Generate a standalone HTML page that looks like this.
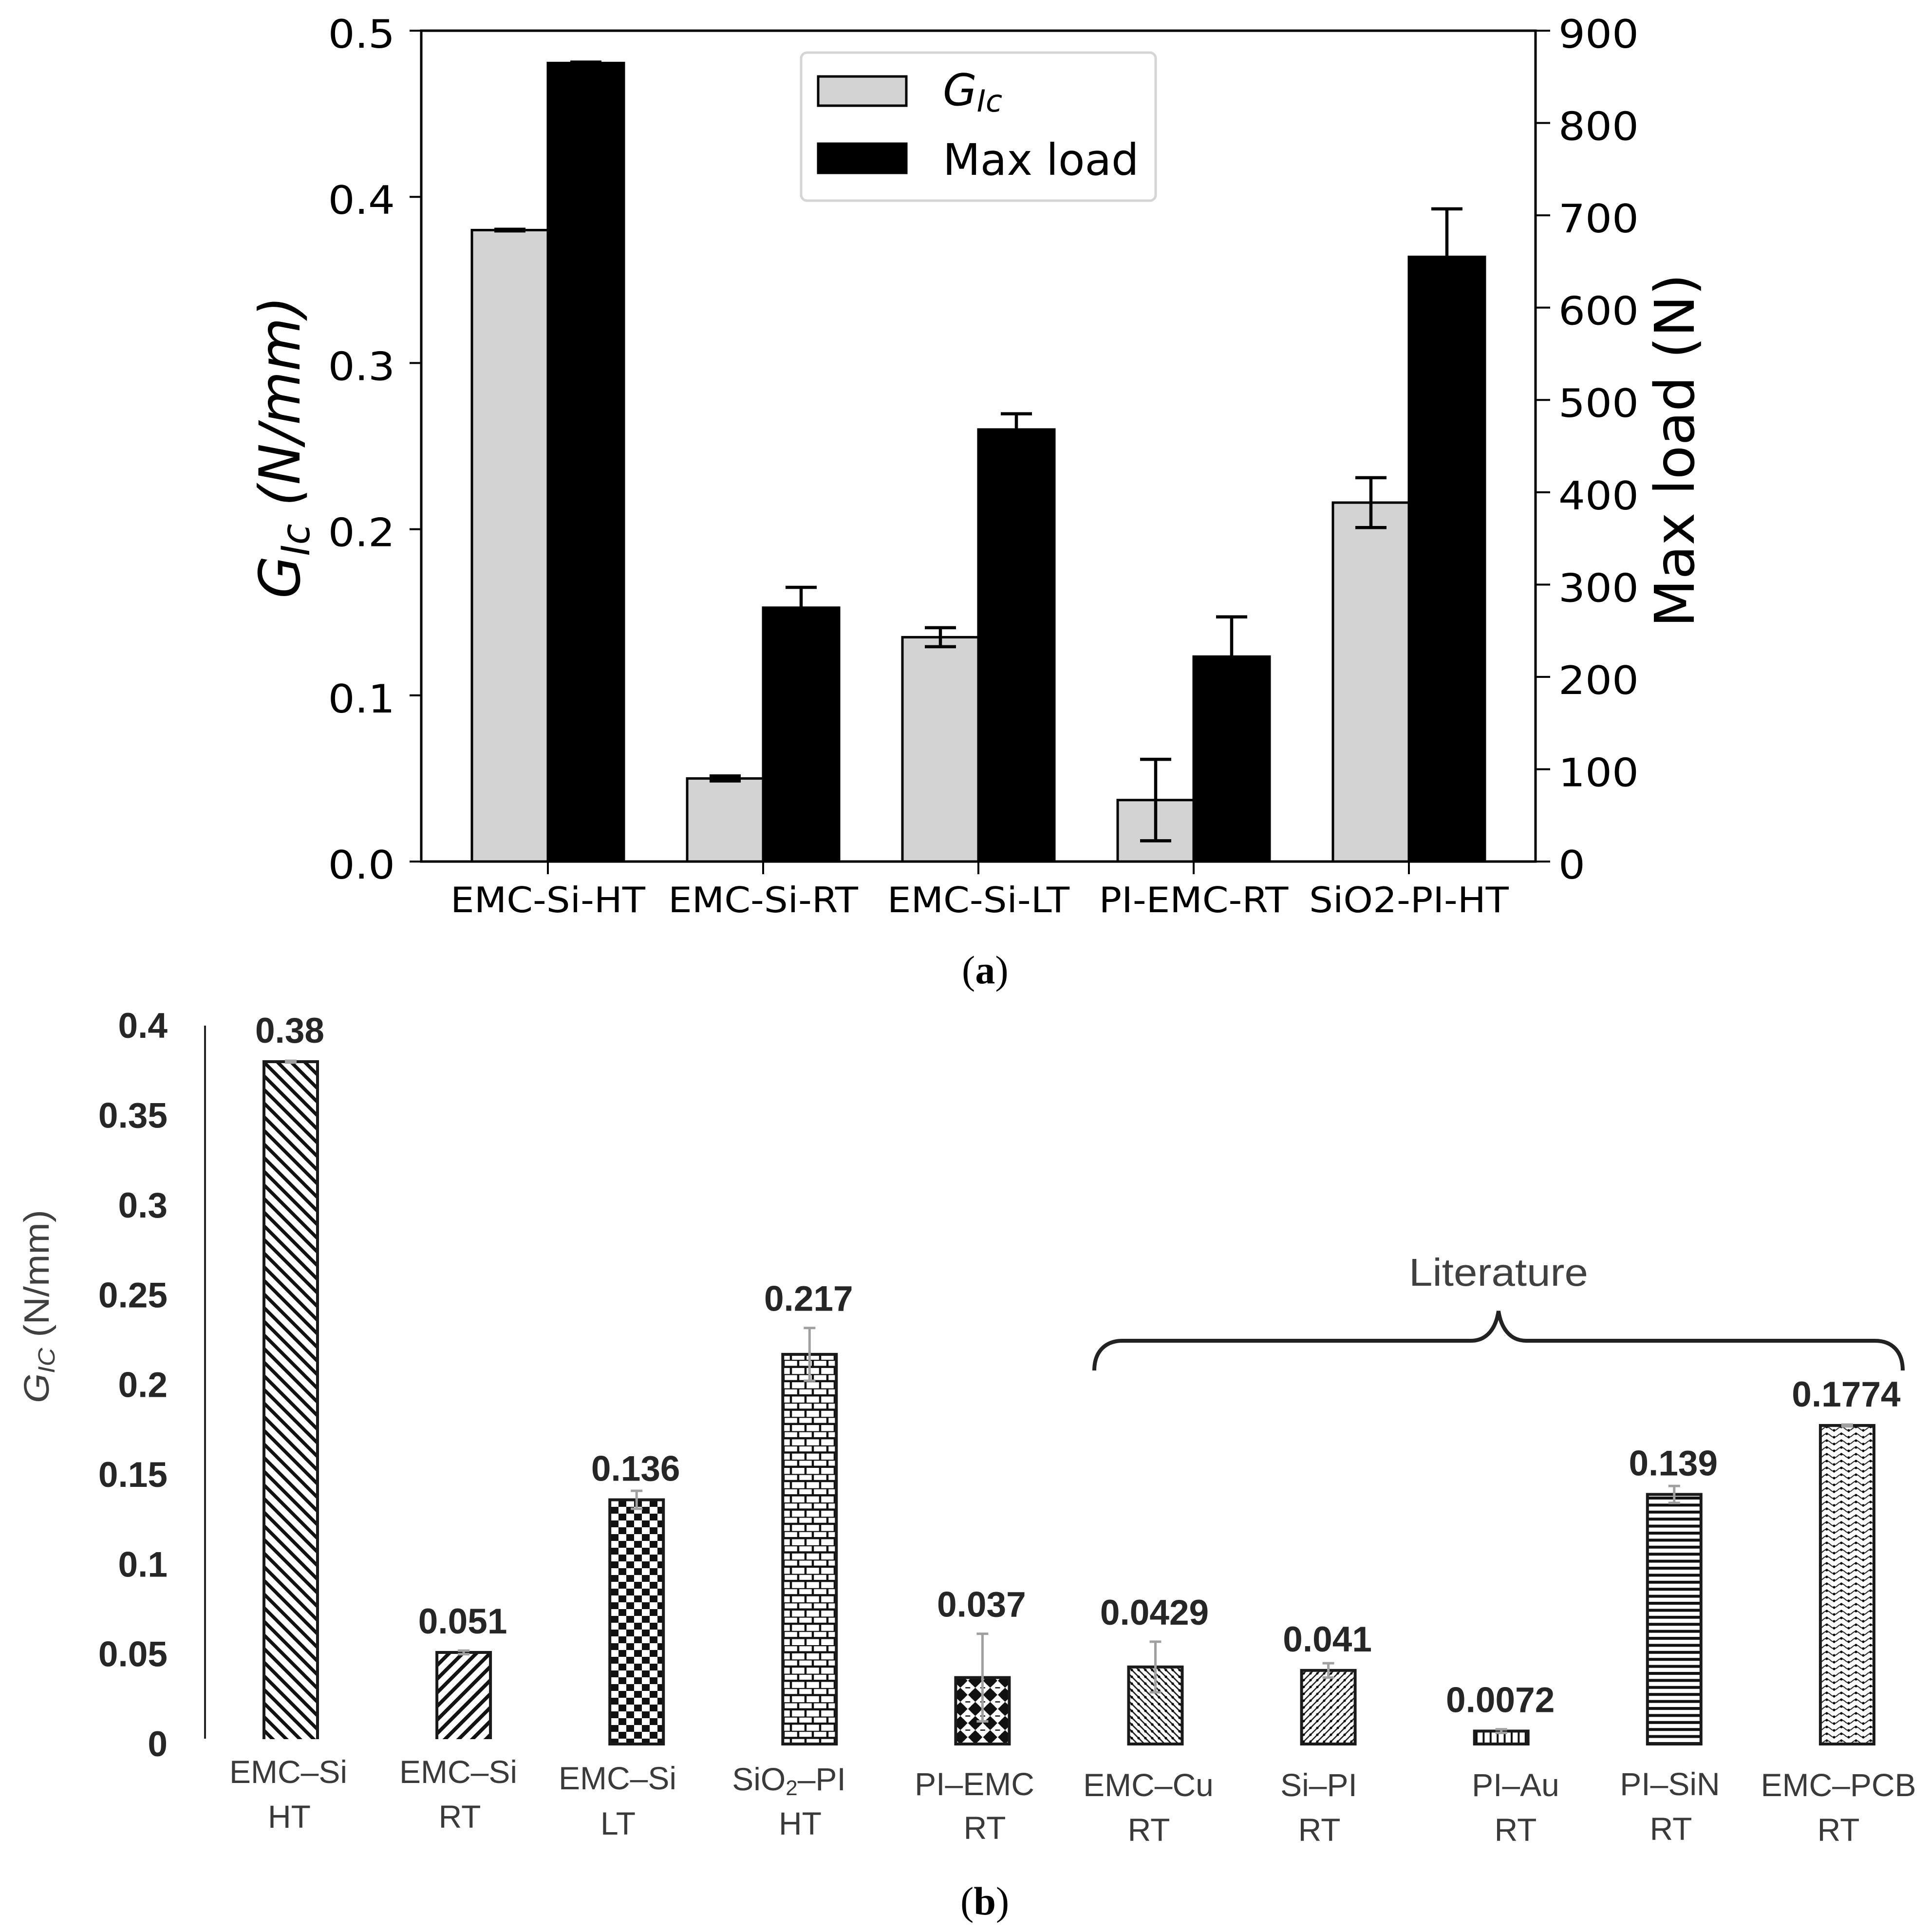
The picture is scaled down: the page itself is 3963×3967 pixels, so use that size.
<!DOCTYPE html>
<html lang="en">
<head>
<meta charset="utf-8">
<title>GIc and max load comparison charts</title>
<style>
html,body{margin:0;padding:0;background:#fff}
svg{display:block}
.dj{font-family:"DejaVu Sans",sans-serif;fill:#000}
.ls{font-family:"Liberation Sans",sans-serif}
.cat{font-size:66px;fill:#3a3a3a;text-anchor:middle}
.cap{font-family:"Liberation Serif",serif;font-size:82px;fill:#000}
</style>
</head>
<body>
<svg id="fig" xmlns="http://www.w3.org/2000/svg" width="3963" height="3967" viewBox="0 0 3963 3967">
<defs>
  <pattern id="hatch-0" patternUnits="userSpaceOnUse" width="28" height="28" x="541" y="2180">
    <path d="M-7 -7L35 35M-7 21L7 35M21 -7L35 7" stroke="#111" stroke-width="7" fill="none"/>
  </pattern>
  <pattern id="hatch-1" patternUnits="userSpaceOnUse" width="28" height="28" x="897" y="3392">
    <path d="M-7 7L7 -7M-7 35L35 -7M21 35L35 21" stroke="#111" stroke-width="7.5" fill="none"/>
  </pattern>
  <pattern id="hatch-2" patternUnits="userSpaceOnUse" width="32" height="28" x="1254" y="3080">
    <rect x="16" y="0" width="16" height="14" fill="#111"/>
    <rect x="0" y="14" width="16" height="14" fill="#111"/>
  </pattern>
  <pattern id="hatch-3" patternUnits="userSpaceOnUse" width="30" height="29.3" x="1624" y="2792">
    <path d="M0 0H30M0 14.65H30M15 0V14.65M0 14.65V29.3M30 14.65V29.3" stroke="#111" stroke-width="4.5" fill="none"/>
  </pattern>
  <pattern id="hatch-4" patternUnits="userSpaceOnUse" width="30.6" height="29" x="1987.3" y="3465.5">
    <circle cx="15.3" cy="14.5" r="10.5" fill="#111"/>
    <path d="M15.3 0L30 14.5L15.3 29L0.6 14.5Z" fill="#111"/>
    <path d="M0 0H5M25.6 0H30.6M0 29H5M25.6 29H30.6" stroke="#111" stroke-width="2.5"/>
  </pattern>
  <pattern id="hatch-5" patternUnits="userSpaceOnUse" width="14" height="14" x="2317" y="3422">
    <path d="M-3.5 -3.5L17.5 17.5M-3.5 10.5L3.5 17.5M10.5 -3.5L17.5 3.5" stroke="#222" stroke-width="2.8" fill="none"/>
    <circle cx="7" cy="7" r="2.6" fill="#000"/>
  </pattern>
  <pattern id="hatch-6" patternUnits="userSpaceOnUse" width="14" height="14" x="2670" y="3429">
    <path d="M-3.5 17.5L17.5 -3.5M-3.5 3.5L3.5 -3.5M10.5 17.5L17.5 10.5" stroke="#222" stroke-width="2.6" fill="none"/>
    <circle cx="7" cy="7" r="2.5" fill="#000"/>
  </pattern>
  <pattern id="hatch-7" patternUnits="userSpaceOnUse" width="14.4" height="14" x="3025" y="3554">
    <path d="M7 0V14" stroke="#111" stroke-width="4" fill="none"/>
  </pattern>
  <pattern id="hatch-8" patternUnits="userSpaceOnUse" width="14.4" height="14.4" x="3381" y="3069">
    <path d="M0 7H14.4" stroke="#111" stroke-width="6" fill="none"/>
  </pattern>
  <pattern id="hatch-9" patternUnits="userSpaceOnUse" width="30" height="14" x="3736" y="2927">
    <path d="M0 10C7 10 8 3 15 3C22 3 23 10 30 10" stroke="#333" stroke-width="2.2" fill="none"/>
    <circle cx="0" cy="10" r="2.6" fill="#000"/><circle cx="30" cy="10" r="2.6" fill="#000"/><circle cx="15" cy="3" r="2.6" fill="#000"/>
  </pattern>
</defs>

<g id="chart-a"></g>
<g id="chart-b"></g>

<!-- Chart a: axis titles -->
<text class="dj" transform="translate(615,1229) rotate(-90)" font-size="116" font-style="italic" textLength="621" lengthAdjust="spacingAndGlyphs">G<tspan font-size="80" dy="20">Ic</tspan><tspan dy="-20"> (N/mm)</tspan></text>
<text class="dj" transform="translate(3478,925) rotate(-90)" font-size="112" text-anchor="middle" textLength="726" lengthAdjust="spacingAndGlyphs">Max load (N)</text>

<!-- Chart a: legend -->
<g>
  <rect x="1645" y="108" width="728" height="304" rx="12" fill="#fff" fill-opacity="0.9" stroke="#d5d5d5" stroke-width="5"/>
  <rect x="1680" y="157" width="181" height="60" fill="#d3d3d3" stroke="#000" stroke-width="5"/>
  <text class="dj" x="1936" y="216" font-size="90" font-style="italic">G<tspan font-size="62" dy="13">Ic</tspan></text>
  <rect x="1680" y="295" width="181" height="60" fill="#000" stroke="#000" stroke-width="5"/>
  <text class="dj" x="1936" y="359" font-size="89">Max load</text>
</g>
<text class="cap" x="1975" y="2019">(<tspan font-weight="bold">a</tspan>)</text>

<!-- Chart b: axis title, literature brace and category labels -->
<text class="ls" transform="translate(100,2881) rotate(-90)" font-size="72" fill="#404040" textLength="397" lengthAdjust="spacingAndGlyphs"><tspan font-style="italic">G</tspan><tspan font-style="italic" font-size="48" dy="12">IC</tspan><tspan dy="-12"> (N/mm)</tspan></text>
<text class="ls" x="3077" y="2640" font-size="80" fill="#404040" text-anchor="middle" textLength="368" lengthAdjust="spacingAndGlyphs">Literature</text>
<path d="M2247 2814C2247 2775 2270 2753 2305 2753H3020C3055 2753 3072 2725 3077 2692C3082 2725 3099 2753 3134 2753H3850C3885 2753 3907 2775 3907 2814" fill="none" stroke="#222" stroke-width="8"/>

<g class="ls">
  <text class="cat" x="592" y="3661">EMC–Si</text>
  <text class="cat" x="594" y="3753">HT</text>
  <text class="cat" x="941" y="3661">EMC–Si</text>
  <text class="cat" x="944" y="3753">RT</text>
  <text class="cat" x="1268" y="3674">EMC–Si</text>
  <text class="cat" x="1269" y="3767">LT</text>
  <text class="cat" x="1620" y="3676">SiO<tspan font-size="44" dy="10">2</tspan><tspan dy="-10">–PI</tspan></text>
  <text class="cat" x="1643" y="3767">HT</text>
  <text class="cat" x="2001" y="3686">PI–EMC</text>
  <text class="cat" x="2022" y="3776">RT</text>
  <text class="cat" x="2358" y="3688">EMC–Cu</text>
  <text class="cat" x="2359" y="3780">RT</text>
  <text class="cat" x="2708" y="3688">Si–PI</text>
  <text class="cat" x="2709" y="3780">RT</text>
  <text class="cat" x="3112" y="3688">PI–Au</text>
  <text class="cat" x="3112" y="3780">RT</text>
  <text class="cat" x="3429" y="3686">PI–SiN</text>
  <text class="cat" x="3431" y="3778">RT</text>
  <text class="cat" x="3775" y="3688">EMC–PCB</text>
  <text class="cat" x="3775" y="3780">RT</text>
</g>
<text class="cap" x="1972" y="3931">(<tspan font-weight="bold">b</tspan>)</text>

<script>
// Chart (a) data
const aCategories = ['EMC-Si-HT', 'EMC-Si-RT', 'EMC-Si-LT', 'PI-EMC-RT', 'SiO2-PI-HT'];
const gicValues = [0.38, 0.05, 0.135, 0.037, 0.216];
const gicErrors = [0.0005, 0.0015, 0.0057, 0.0245, 0.015];
const loadValues = [865, 275, 468, 222, 655];
const loadErrors = [1, 22, 17, 43, 52];
const gicTicks = ['0.0', '0.1', '0.2', '0.3', '0.4', '0.5'];
const loadTicks = ['0', '100', '200', '300', '400', '500', '600', '700', '800', '900'];

// Chart (b) data
const bValues = [0.38, 0.051, 0.136, 0.217, 0.037, 0.0429, 0.041, 0.0072, 0.139, 0.1774];
const bErrors = [0.0005, 0.001, 0.005, 0.0147, 0.0244, 0.0141, 0.004, 0.001, 0.0047, 0.0005];
const bPrinted = ['0.38', '0.051', '0.136', '0.217', '0.037', '0.0429', '0.041', '0.0072', '0.139', '0.1774'];
const bTicks = ['0', '0.05', '0.1', '0.15', '0.2', '0.25', '0.3', '0.35', '0.4'];

const NS = 'http://www.w3.org/2000/svg';
function mk(parent, tag, attrs, txt) {
  const el = document.createElementNS(NS, tag);
  for (const k in attrs) el.setAttribute(k, attrs[k]);
  if (txt !== undefined) el.textContent = txt;
  parent.appendChild(el);
  return el;
}
function stretch(el, k) {
  el.setAttribute('textLength', el.getComputedTextLength() * k);
  el.setAttribute('lengthAdjust', 'spacingAndGlyphs');
}

/* ---------- Chart (a) ---------- */
const A = document.getElementById('chart-a');
const aLeft = 865, aRight = 3153, aTop = 63, aBottom = 1769;
const yGic = v => aBottom - (aBottom - aTop) * v / 0.5;
const yLoad = v => aBottom - (aBottom - aTop) * v / 900;
const aX = i => 1125 + 442 * i;
const aBarW = 156;
const errCap = 32;

function errorBar(parent, x, yHi, yLo, name, color, sw, capHalf) {
  const g = mk(parent, 'g', {stroke: color, 'stroke-width': sw, fill: 'none'});
  
  
  mk(g, 'line', {x1: x, x2: x, y1: yHi, y2: yLo});
  mk(g, 'line', {x1: x - capHalf, x2: x + capHalf, y1: yHi, y2: yHi});
  mk(g, 'line', {x1: x - capHalf, x2: x + capHalf, y1: yLo, y2: yLo});
}

aCategories.forEach((c, i) => {
  const x = aX(i);
  const top = yGic(gicValues[i]);
  const r = mk(A, 'rect', {x: x - aBarW, y: top, width: aBarW, height: aBottom - top, fill: '#d3d3d3', stroke: '#000', 'stroke-width': 5});
  
  
  errorBar(A, x - aBarW / 2, yGic(gicValues[i] + gicErrors[i]), yGic(gicValues[i] - gicErrors[i]), 'gic-error-bar', '#000', 6.5, errCap);
});
aCategories.forEach((c, i) => {
  const x = aX(i);
  const top = yLoad(loadValues[i]);
  errorBar(A, x + aBarW / 2, yLoad(loadValues[i] + loadErrors[i]), yLoad(loadValues[i] - loadErrors[i]), 'load-error-bar', '#000', 6.5, errCap);
  const r = mk(A, 'rect', {x: x, y: top, width: aBarW, height: aBottom - top, fill: '#000', stroke: '#000', 'stroke-width': 5});
  
  

  const t = mk(A, 'line', {x1: x, x2: x, y1: aBottom, y2: aBottom + 26, stroke: '#000', 'stroke-width': 4});
  
  
  const l = mk(A, 'text', {class: 'dj', x: x, y: 1873, 'font-size': 72, 'text-anchor': 'middle'}, c);
  
  
  stretch(l, 1.07);
});

const frame = mk(A, 'rect', {x: aLeft, y: aTop, width: aRight - aLeft, height: aBottom - aTop, fill: 'none', stroke: '#000', 'stroke-width': 5});



gicTicks.forEach(s => {
  const y = yGic(parseFloat(s));
  const t = mk(A, 'line', {x1: aLeft - 24, x2: aLeft, y1: y, y2: y, stroke: '#000', 'stroke-width': 4});
  
  
  const l = mk(A, 'text', {class: 'dj', x: 811, y: y + 35, 'font-size': 80, 'text-anchor': 'end'}, s);
  
  
  stretch(l, 1.08);
});
loadTicks.forEach(s => {
  const y = yLoad(parseFloat(s));
  const t = mk(A, 'line', {x1: aRight, x2: aRight + 30, y1: y, y2: y, stroke: '#000', 'stroke-width': 4});
  
  
  const l = mk(A, 'text', {class: 'dj', x: 3200, y: y + 35, 'font-size': 80}, s);
  
  
  stretch(l, 1.08);
});

/* ---------- Chart (b) ---------- */
const B = document.getElementById('chart-b');
const bZero = 3581, bUnit = 3687;
const yB = v => bZero - bUnit * v;
const xB = i => 597 + 355.1 * i;
const bBarW = 110;

bValues.forEach((v, i) => {
  const x = xB(i), top = yB(v);
  const r = mk(B, 'rect', {x: x - bBarW / 2, y: top, width: bBarW, height: bZero - top, fill: 'url(#hatch-' + i + ')', stroke: '#1a1a1a', 'stroke-width': 6});
  
  
  const bg = mk(B, 'rect', {x: x - bBarW / 2, y: top, width: bBarW, height: bZero - top, fill: '#fff'});
  
  
  B.insertBefore(bg, r);
});

const mask = mk(B, 'rect', {x: 430, y: 3571, width: 660, height: 20, fill: '#fff'});



bValues.forEach((v, i) => {
  const x = xB(i);
  errorBar(B, x, yB(v + bErrors[i]), yB(v - bErrors[i]), 'bar-error', '#a0a0a0', 5, 12);
  const cy = bErrors[i] > 0.01 ? yB(v + bErrors[i]) - 60 : yB(v) - 64;
  const l = mk(B, 'text', {class: 'ls', x: x - 2, y: cy + 25, 'font-size': 73, 'font-weight': 'bold', fill: '#262626', 'text-anchor': 'middle'}, bPrinted[i]);
  
  
});

const bAxis = mk(B, 'line', {x1: 421, x2: 421, y1: 2106, y2: 3570, stroke: '#222', 'stroke-width': 4});



bTicks.forEach(s => {
  const l = mk(B, 'text', {class: 'ls', x: 344, y: yB(parseFloat(s)) + 25, 'font-size': 73, 'font-weight': 'bold', fill: '#262626', 'text-anchor': 'end'}, s);
  
  
});
</script>
</svg>
</body>
</html>
